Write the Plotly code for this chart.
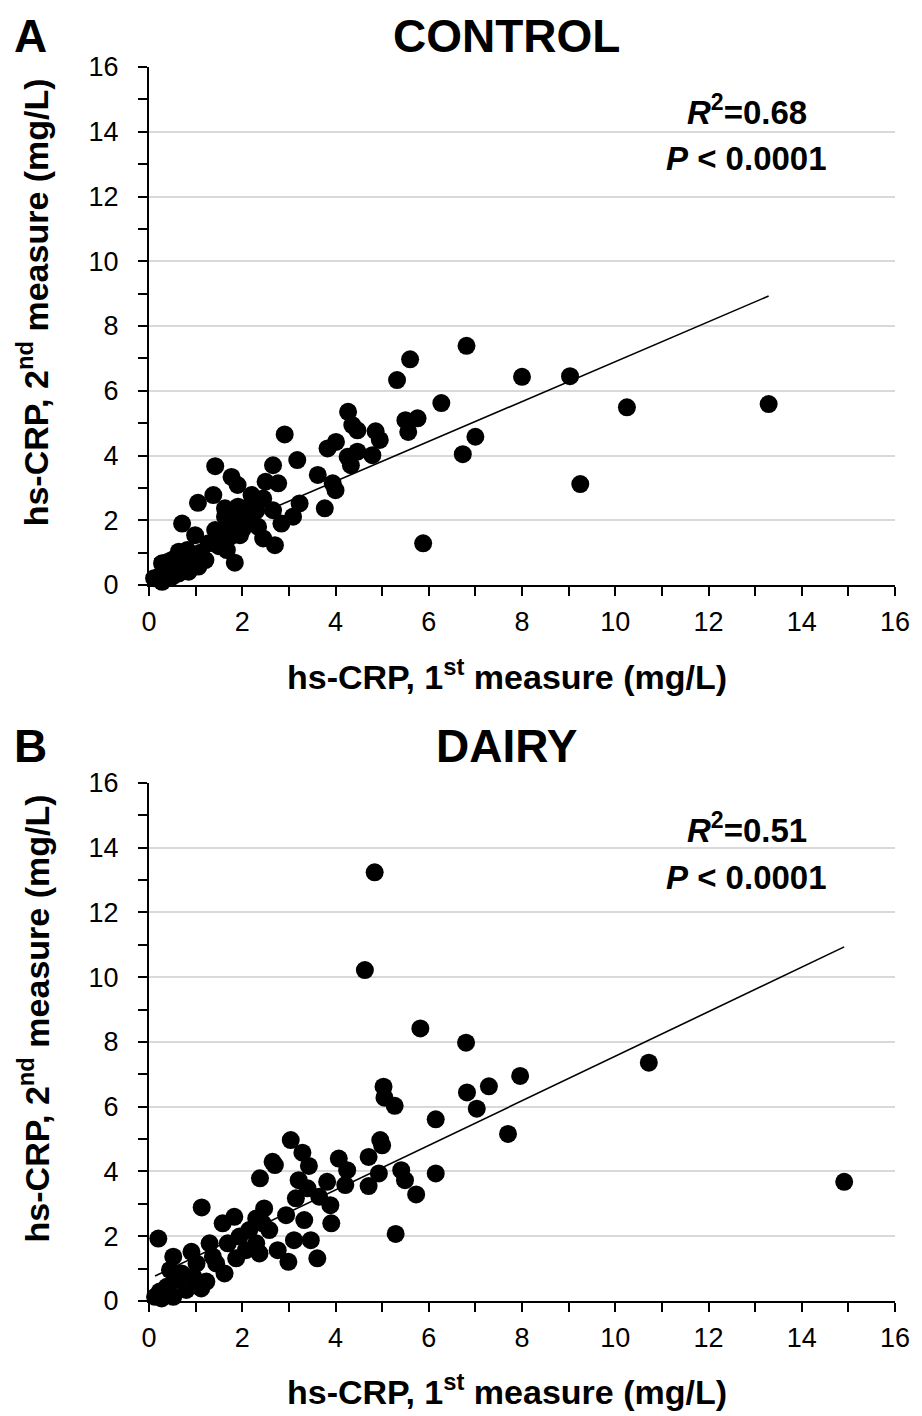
import plotly.graph_objects as go
from plotly.subplots import make_subplots

# panel A - control
ctrl_x = [5.6, 5.32, 6.27, 5.5, 5.76, 5.56, 6.73, 7.0, 8.0, 9.03, 10.25, 13.29, 9.25, 5.88, 6.81,
          2.91, 1.42, 3.18, 4.27, 4.36, 4.47, 4.86, 4.95, 3.83, 4.01, 4.26, 4.47, 4.33, 4.79, 3.62,
          3.94, 4.0, 3.77, 3.23, 3.09, 2.84, 2.66, 1.77, 1.9, 2.5, 2.77, 1.38, 1.05, 2.2, 2.45,
          1.63, 1.91, 2.66, 0.71, 0.99, 1.42, 1.70, 1.91, 2.13, 2.34, 2.45, 2.70, 1.84, 1.67, 1.28,
          1.95, 1.49, 1.21, 1.06, 0.85, 0.64, 0.82, 0.50, 0.28, 0.35, 0.21, 0.11, 0.28, 0.5, 0.64,
          2.2, 1.63, 1.84, 0.4, 0.9, 1.1, 0.7, 1.5, 2.0, 2.3, 1.75]
ctrl_y = [6.97, 6.33, 5.62, 5.09, 5.15, 4.73, 4.04, 4.58, 6.43, 6.45, 5.49, 5.59, 3.12, 1.29, 7.39,
          4.65, 3.67, 3.86, 5.35, 4.94, 4.78, 4.75, 4.48, 4.22, 4.42, 3.96, 4.12, 3.70, 4.01, 3.40,
          3.14, 2.93, 2.37, 2.52, 2.11, 1.90, 3.70, 3.34, 3.09, 3.19, 3.14, 2.78, 2.54, 2.78, 2.67,
          2.37, 2.42, 2.31, 1.90, 1.54, 1.70, 1.90, 2.0, 2.11, 1.80, 1.44, 1.23, 0.69, 1.08, 1.29,
          1.54, 1.49, 0.77, 0.57, 0.41, 1.03, 1.08, 0.77, 0.67, 0.46, 0.26, 0.21, 0.10, 0.26, 0.36,
          2.52, 2.11, 2.26, 0.3, 0.7, 1.0, 0.6, 1.2, 1.7, 2.3, 1.5]
ctrl_slope, ctrl_icpt = 0.616, 0.74

# panel B - dairy
dairy_x = [4.84, 4.63, 5.82, 6.80, 10.72, 7.96, 7.29, 6.82, 7.03, 5.03, 5.05, 5.27, 6.15, 7.70,
           5.41, 5.49, 5.73, 6.15, 5.29, 14.91, 3.04, 3.29, 3.43, 2.65, 2.7, 2.38, 4.07, 4.25,
           4.71, 4.96, 5.0, 4.93, 4.71, 4.21, 3.21, 3.40, 3.82, 3.65, 3.89, 3.91, 3.15, 3.33,
           2.94, 3.11, 3.47, 3.61, 2.99, 2.76, 2.47, 2.30, 1.83, 1.58, 1.13, 0.20, 1.30, 0.91,
           0.52, 2.44, 2.15, 2.58, 1.94, 1.69, 2.30, 2.08, 2.37, 1.87, 1.62, 1.44, 1.12, 1.23,
           0.80, 0.70, 0.59, 0.45, 0.38, 0.23, 0.13, 0.27, 1.02, 0.95, 1.37, 0.52]
dairy_y = [13.24, 10.22, 8.42, 7.98, 7.36, 6.95, 6.63, 6.44, 5.94, 6.62, 6.28, 6.03, 5.61, 5.16,
           4.04, 3.73, 3.29, 3.94, 2.07, 3.68, 4.97, 4.58, 4.17, 4.3, 4.2, 3.79, 4.40, 4.04,
           4.45, 4.97, 4.81, 3.94, 3.55, 3.58, 3.73, 3.48, 3.68, 3.22, 2.96, 2.40, 3.17, 2.5,
           2.65, 1.88, 1.88, 1.32, 1.21, 1.57, 2.86, 2.55, 2.60, 2.40, 2.89, 1.93, 1.78, 1.52,
           1.37, 2.4, 2.19, 2.19, 1.99, 1.78, 1.78, 1.57, 1.47, 1.32, 0.85, 1.16, 0.39, 0.6,
           0.34, 0.85, 0.65, 0.96, 0.44, 0.29, 0.13, 0.08, 1.16, 0.75, 1.37, 0.13]
dairy_slope, dairy_icpt = 0.688, 0.68

tick_vals = [0, 2, 4, 6, 8, 10, 12, 14, 16]

fig = make_subplots(rows=2, cols=1, vertical_spacing=0.1604)

panels = [(ctrl_x, ctrl_y, ctrl_slope, ctrl_icpt), (dairy_x, dairy_y, dairy_slope, dairy_icpt)]
for i, (px, py, m, b) in enumerate(panels):
    row = i + 1
    fig.add_trace(go.Scatter(x=px, y=py, mode="markers", cliponaxis=False,
                             marker=dict(color="black", size=18)), row=row, col=1)
    lx = [min(px), max(px)]
    fig.add_trace(go.Scatter(x=lx, y=[m * v + b for v in lx], mode="lines",
                             line=dict(color="black", width=1.6)), row=row, col=1)
    fig.update_xaxes(range=[0, 16], tickvals=tick_vals, showline=True, linecolor="black",
                     linewidth=2, ticks="outside", ticklen=9, tickwidth=2, tickcolor="black",
                     minor=dict(dtick=1, ticks="outside", ticklen=9, tickwidth=2, tickcolor="black"),
                     showgrid=False, zeroline=False, ticklabelstandoff=3,
                     tickfont=dict(size=27, color="black"), row=row, col=1)
    fig.update_yaxes(range=[0, 16], tickvals=tick_vals, showline=True, linecolor="black",
                     linewidth=2, ticks="outside", ticklen=9, tickwidth=2, tickcolor="black",
                     minor=dict(dtick=1, ticks="outside", ticklen=9, tickwidth=2, tickcolor="black",
                                showgrid=False),
                     showgrid=True, gridcolor="#d9d9d9", gridwidth=1.5, zeroline=False,
                     ticklabelstandoff=14, tickfont=dict(size=27, color="black"), row=row, col=1)

fig.update_layout(yaxis=dict(domain=[0.5802, 1]), yaxis2=dict(domain=[0, 0.4198]))

ann = []
def txt(t, x, y, size, angle=0, yanchor="middle"):
    ann.append(dict(text=t, x=x, y=y, xref="paper", yref="paper", showarrow=False,
                    xanchor="center", yanchor=yanchor, textangle=angle,
                    font=dict(size=size, color="black")))

txt("<b>A</b>", -0.159, 1.0478, 46, yanchor="top")
txt("<b>CONTROL</b>", 0.479, 1.0478, 46, yanchor="top")
txt("<b>B</b>", -0.159, 0.4498, 46)
txt("<b>DAIRY</b>", 0.479, 0.4498, 46)
txt("<b><i>R</i><sup>2</sup>=0.68</b>", 0.801, 0.965, 33)
txt("<b><i>P</i> &lt; 0.0001</b>", 0.801, 0.926, 33)
txt("<b><i>R</i><sup>2</sup>=0.51</b>", 0.801, 0.3833, 33)
txt("<b><i>P</i> &lt; 0.0001</b>", 0.801, 0.3428, 33)
for yc in [0.508, -0.0721]:
    txt("<b>hs-CRP, 1<sup>st</sup> measure (mg/L)</b>", 0.480, yc, 34)
for yc in [0.8096, 0.2293]:
    txt("<b>hs-CRP, 2<sup>nd</sup> measure (mg/L)</b>", -0.155, yc, 34, -90)

# page body keeps an 8px margin, so the figure is 8px smaller and shifted
fig.update_layout(width=914, height=1408, showlegend=False, annotations=ann,
                  margin=dict(l=141, r=24, t=59, b=115),
                  paper_bgcolor="white", plot_bgcolor="white",
                  font=dict(family="Liberation Sans, Arial, sans-serif", color="black"))

fig.write_html("out.html")
